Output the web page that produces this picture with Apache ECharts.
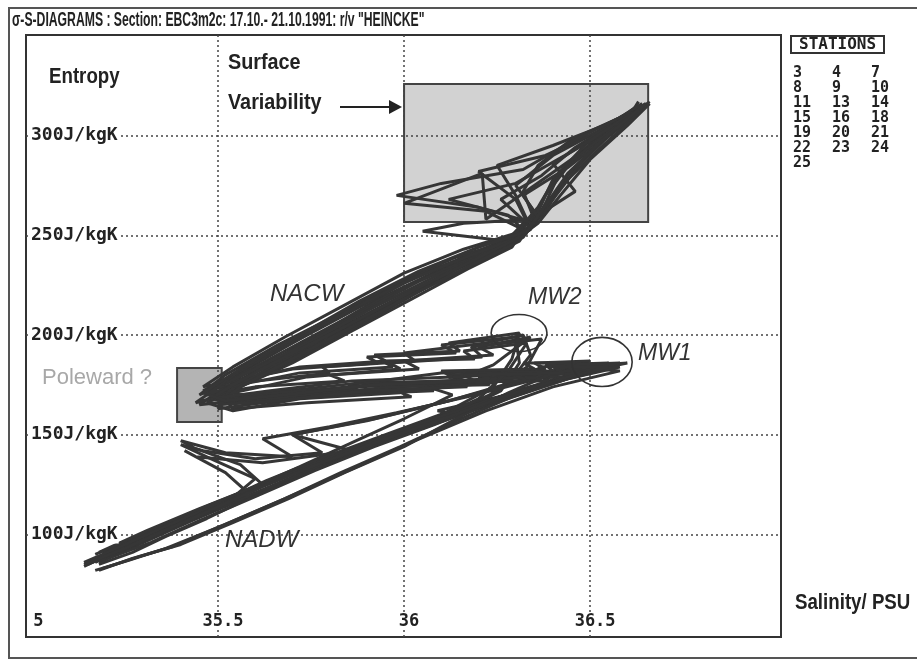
<!DOCTYPE html>
<html>
<head>
<meta charset="utf-8">
<script src="https://cdn.jsdelivr.net/npm/echarts@6/dist/echarts.min.js"></script>
<style>html,body{margin:0;padding:0;background:#fff}#c{width:917px;height:660px}</style>
</head>
<body>
<div id="c"></div>
<script>
// ---- axis ticks / labels ----
const salinityTicks = [35, 35.5, 36, 36.5];
const salinityTickLabels = ['5', '35.5', '36', '36.5'];
const entropyTicks = [100, 150, 200, 250, 300];
const stationNames = ['3','4','7','8','9','10','11','13','14','15','16','18','19','20','21','22','23','24','25'];

// ---- station profiles [salinity PSU, entropy J/kgK], deep -> surface ----
const st3 = [[35.18,85],[35.27,91],[35.36,99],[35.47,108],[35.58,118],[35.70,128],[35.84,139],[35.99,150],[36.14,160],[36.09,162],[36.30,171],[36.44,178],[36.57,184],[36.41,183],[36.45,181],[36.20,178],[36.24,176],[35.98,172],[36.02,169],[35.74,166],[35.54,163],[35.51,170],[35.63,181],[35.79,196],[35.96,214],[36.13,232],[36.28,245],[36.36,256],[36.42,270],[36.50,288],[36.60,305],[36.66,316]];
const st4 = [[35.16,86],[35.25,94],[35.36,103],[35.48,113],[35.60,124],[35.72,134],[35.86,146],[36.00,158],[36.13,170],[36.08,173],[36.24,185],[36.34,199],[36.20,194],[36.24,190],[36.00,187],[36.04,183],[35.80,180],[35.84,177],[35.60,174],[35.47,170],[35.55,180],[35.70,196],[35.86,213],[36.02,229],[36.18,240],[36.32,250],[36.38,262],[36.44,280],[36.54,298],[36.63,312]];
const st7 = [[35.17,87],[35.29,96],[35.41,106],[35.53,117],[35.60,128],[35.48,138],[35.40,145],[35.46,142],[35.60,138],[35.78,141],[35.70,150],[35.92,158],[36.12,167],[36.34,179],[36.50,187],[36.35,186],[36.38,183],[36.10,181],[35.85,175],[35.88,172],[35.60,168],[35.45,165],[35.52,174],[35.66,187],[35.82,203],[36.00,220],[36.16,235],[36.30,248],[36.35,262],[36.30,275],[36.40,290],[36.55,305],[36.64,314]];
const st8 = [[35.17,82],[35.26,87],[35.36,93],[35.52,105],[35.68,118],[35.85,132],[36.03,147],[36.22,162],[36.40,174],[36.58,182],[36.46,184],[36.50,181],[36.25,181],[36.28,178],[36.02,176],[36.06,173],[35.80,172],[35.58,168],[35.48,172],[35.58,181],[35.74,194],[35.90,209],[36.06,224],[36.22,238],[36.34,253],[36.30,268],[36.20,282],[36.38,290],[36.52,302],[36.62,311]];
const st9 = [[35.16,86],[35.27,95],[35.41,107],[35.57,120],[35.72,133],[35.89,145],[36.07,157],[36.24,168],[36.41,178],[36.50,183],[36.30,181],[36.34,179],[36.05,175],[36.08,172],[35.82,170],[35.60,166],[35.50,168],[35.60,182],[35.77,200],[35.93,218],[36.10,233],[36.25,245],[36.33,252],[36.22,262],[36.00,266],[36.21,281],[36.22,258],[36.35,275],[36.48,292],[36.60,308],[36.65,315]];
const st10 = [[35.17,90],[35.30,100],[35.43,111],[35.58,122],[35.72,132],[35.89,143],[36.06,154],[36.20,165],[36.29,178],[36.34,190],[36.32,200],[36.22,196],[36.00,191],[36.03,187],[35.78,184],[35.80,181],[35.56,176],[35.46,172],[35.54,180],[35.68,194],[35.84,210],[36.00,226],[36.16,239],[36.30,250],[36.36,262],[36.40,278],[36.50,296],[36.61,311],[36.63,317]];
const st11 = [[35.14,84],[35.23,92],[35.34,101],[35.46,111],[35.58,121],[35.52,131],[35.41,142],[35.44,139],[35.62,136],[35.86,142],[35.70,150],[35.90,157],[36.10,166],[36.30,176],[36.47,183],[36.55,186],[36.38,185],[36.40,182],[36.12,180],[36.15,177],[35.88,176],[35.64,171],[35.50,167],[35.56,174],[35.70,186],[35.86,202],[36.02,218],[36.17,233],[36.29,244],[36.33,256],[36.26,268],[36.37,280],[36.46,294],[36.57,307],[36.62,314]];
const st13 = [[35.20,92],[35.33,103],[35.48,115],[35.64,127],[35.80,138],[35.98,149],[36.13,160],[36.26,172],[36.31,186],[36.30,199],[36.10,195],[36.14,191],[35.90,189],[35.93,186],[35.70,183],[35.52,176],[35.45,170],[35.52,180],[35.66,195],[35.82,210],[35.98,226],[36.14,239],[36.28,247],[36.05,252],[36.16,256],[36.35,258],[36.32,272],[36.36,285],[36.45,298],[36.58,309],[36.64,315]];
const st14 = [[35.18,86],[35.30,96],[35.43,107],[35.57,118],[35.72,130],[35.88,142],[36.06,154],[36.23,165],[36.39,175],[36.52,183],[36.60,186],[36.44,184],[36.47,181],[36.20,179],[36.23,176],[35.96,174],[35.99,171],[35.72,168],[35.54,162],[35.47,166],[35.58,176],[35.75,192],[35.92,209],[36.08,226],[36.24,240],[36.34,253],[36.38,266],[36.42,282],[36.52,298],[36.62,312]];
const st15 = [[35.19,91],[35.31,101],[35.45,112],[35.60,124],[35.76,136],[35.94,148],[36.10,159],[36.23,170],[36.33,184],[36.37,198],[36.18,194],[36.21,189],[35.96,186],[35.99,183],[35.74,179],[35.54,171],[35.44,166],[35.50,174],[35.64,188],[35.80,204],[35.96,220],[36.12,234],[36.27,246],[36.33,258],[36.30,270],[36.25,285],[36.40,295],[36.55,306],[36.65,316]];
const st16 = [[35.15,85],[35.26,94],[35.38,104],[35.50,114],[35.62,125],[35.56,135],[35.44,143],[35.40,147],[35.52,141],[35.70,139],[35.62,148],[35.80,154],[35.98,161],[36.17,169],[36.36,178],[36.53,185],[36.36,184],[36.39,181],[36.12,179],[36.15,176],[35.88,174],[35.66,170],[35.52,168],[35.58,179],[35.72,195],[35.88,211],[36.04,227],[36.20,240],[36.32,249],[36.37,262],[36.44,278],[36.54,296],[36.63,311]];
const st18 = [[35.18,82],[35.27,88],[35.38,94],[35.53,106],[35.68,118],[35.83,131],[35.99,144],[36.14,157],[36.29,169],[36.44,178],[36.58,184],[36.42,182],[36.45,179],[36.20,178],[36.23,175],[35.97,174],[35.75,170],[35.55,166],[35.48,168],[35.58,177],[35.74,193],[35.90,209],[36.06,224],[36.22,238],[36.33,251],[36.28,260],[36.12,268],[36.30,276],[36.46,293],[36.59,307],[36.66,317]];
const st19 = [[35.14,86],[35.24,94],[35.36,104],[35.49,115],[35.63,127],[35.79,139],[35.95,150],[36.11,161],[36.24,174],[36.29,188],[36.31,201],[36.12,196],[36.15,192],[35.92,190],[35.95,187],[35.72,184],[35.54,177],[35.46,174],[35.54,184],[35.68,199],[35.84,215],[36.00,231],[36.16,243],[36.30,251],[36.36,264],[36.41,280],[36.49,296],[36.60,310]];
const st20 = [[35.19,87],[35.32,96],[35.45,107],[35.60,119],[35.76,132],[35.92,144],[36.08,155],[36.23,166],[36.38,176],[36.48,182],[36.30,180],[36.33,177],[36.06,176],[36.09,173],[35.83,171],[35.62,166],[35.50,163],[35.53,172],[35.66,186],[35.82,202],[35.98,218],[36.14,233],[36.29,245],[36.35,256],[36.20,264],[35.98,270],[36.10,276],[36.32,283],[36.45,297],[36.58,309],[36.64,316]];
const st21 = [[35.17,86],[35.29,96],[35.42,107],[35.55,117],[35.69,128],[35.84,140],[36.00,152],[36.16,163],[36.32,173],[36.46,181],[36.58,186],[36.43,185],[36.46,182],[36.20,181],[36.23,178],[35.96,176],[35.74,172],[35.56,170],[35.50,174],[35.60,183],[35.76,198],[35.92,214],[36.08,229],[36.23,242],[36.34,254],[36.40,268],[36.47,285],[36.56,302],[36.64,314]];
const st22 = [[35.18,91],[35.31,102],[35.45,113],[35.60,124],[35.75,134],[35.92,145],[36.07,157],[36.20,168],[36.28,182],[36.33,196],[36.16,192],[36.19,188],[35.94,187],[35.97,184],[35.72,181],[35.53,174],[35.47,170],[35.55,181],[35.70,197],[35.86,213],[36.02,228],[36.18,240],[36.31,249],[36.36,260],[36.46,272],[36.40,286],[36.52,300],[36.62,312]];
const st23 = [[35.16,86],[35.27,95],[35.39,105],[35.52,116],[35.66,128],[35.82,140],[35.99,152],[36.16,163],[36.32,173],[36.49,181],[36.36,180],[36.39,177],[36.14,177],[36.17,174],[35.90,172],[35.66,167],[35.50,165],[35.56,174],[35.70,188],[35.86,204],[36.02,220],[36.18,235],[36.31,247],[36.35,258],[36.38,270],[36.45,287],[36.56,303],[36.65,316]];
const st24 = [[35.19,83],[35.29,89],[35.40,95],[35.54,106],[35.69,118],[35.84,131],[36.00,144],[36.14,158],[36.28,171],[36.39,180],[36.46,186],[36.32,186],[36.35,183],[36.10,182],[36.13,179],[35.86,177],[35.64,172],[35.48,168],[35.54,175],[35.68,189],[35.84,204],[36.00,220],[36.16,235],[36.30,248],[36.36,259],[36.32,270],[36.44,284],[36.55,300],[36.64,313]];
const st25 = [[35.14,85],[35.25,93],[35.37,103],[35.49,113],[35.62,124],[35.78,136],[35.95,148],[36.12,159],[36.28,170],[36.44,179],[36.55,184],[36.40,184],[36.43,181],[36.16,180],[36.19,177],[35.92,175],[35.68,170],[35.52,167],[35.46,171],[35.56,183],[35.72,200],[35.88,217],[36.04,232],[36.20,244],[36.33,252],[36.38,265],[36.44,281],[36.54,299],[36.63,313]];
const stationProfiles = [st3, st4, st7, st8, st9, st10, st11, st13, st14, st15, st16, st18, st19, st20, st21, st22, st23, st24, st25];

// ---- annotation regions (data units) ----
const surfaceBox = [36.0, 256.6, 36.656, 325.8];
const polewardBox = [35.39, 156.4, 35.51, 183.5];
const mwRings = [[36.309, 201, 0.075, 9.3], [36.532, 186.5, 0.081, 12.3]];

const MONO = "'DejaVu Sans Mono', monospace";
const SANSB = "bold 22px 'Liberation Sans', Arial, sans-serif";
const INK = '#333';

const chart = echarts.init(document.getElementById('c'));

const lineSeries = stationNames.map((name, i) => ({
  name: name,
  type: 'line',
  data: stationProfiles[i],
  showSymbol: false,
  symbol: 'none',
  z: 3,
  lineStyle: { color: '#363636', width: 3 },
  itemStyle: { color: '#363636' },
  emphasis: { disabled: true }
}));

function txt(text, x, y, font, fill, sx) {
  return { type: 'text', x: x, y: y, scaleX: sx || 1, z: 20,
    style: { text: text, font: font, fill: fill || '#222', textVerticalAlign: 'middle', verticalAlign: 'middle' } };
}

const labelFont = { fontFamily: MONO, fontWeight: 'bold', fontSize: 17, color: '#222' };

const option = {
  animation: false,
  backgroundColor: '#fff',
  title: [
    { text: 'STATIONS', left: 791, top: 36, padding: [1, 8, 0, 8],
      borderColor: INK, borderWidth: 2,
      textStyle: { fontFamily: MONO, fontWeight: 'bold', fontSize: 16, lineHeight: 16, color: '#222' } }
  ],
  legend: {
    data: stationNames, left: 788, top: 66, width: 120, padding: 0,
    orient: 'horizontal', itemGap: 0, itemWidth: 0, itemHeight: 0, icon: 'none',
    selectedMode: false,
    textStyle: { fontFamily: MONO, fontWeight: 'bold', fontSize: 15, lineHeight: 12.7, width: 34, color: '#222' }
  },
  grid: { left: 26, right: 136, top: 35, bottom: 23, show: true, borderColor: INK, borderWidth: 2, backgroundColor: 'transparent' },
  xAxis: {
    type: 'value', min: 34.984, max: 37.013, z: 10,
    axisLine: { show: false }, splitLine: { show: false },
    axisTick: { show: false, customValues: salinityTicks },
    axisLabel: {
      inside: true, margin: 7, customValues: salinityTicks,
      formatter: v => {
        const t = salinityTickLabels[salinityTicks.indexOf(v)] || '';
        return v === salinityTicks[0] ? '{n|' + t + '}' : '{w|' + t + '}';
      },
      rich: {
        w: Object.assign({ backgroundColor: '#fff', padding: [0, 0, 0, 10] }, labelFont),
        n: Object.assign({ padding: [0, 0, 0, 13] }, labelFont)
      }
    }
  },
  yAxis: {
    type: 'value', min: 48.6, max: 350.4, z: 10,
    axisLine: { show: false }, splitLine: { show: false },
    axisTick: { show: false, customValues: entropyTicks },
    axisLabel: Object.assign({
      inside: true, margin: 5, customValues: entropyTicks,
      formatter: v => v + 'J/kgK',
      backgroundColor: '#fff', padding: [0, 1, 0, 0]
    }, labelFont, { fontSize: 18 })
  },
  graphic: [
    { type: 'rect', shape: { x: 9, y: 8, width: 930, height: 650 }, style: { fill: 'none', stroke: '#555', lineWidth: 2 }, z: 0 },
    txt('σ-S-DIAGRAMS : Section: EBC3m2c: 17.10.- 21.10.1991: r/v "HEINCKE"', 12, 20, "bold 20px 'Liberation Sans', Arial, sans-serif", '#222', 0.61),
    txt('Entropy', 49, 77, SANSB, '#222', 0.85),
    txt('Surface', 228, 63, SANSB, '#222', 0.9),
    txt('Variability', 228, 103, SANSB, '#222', 0.9),
    { type: 'line', shape: { x1: 340, y1: 107, x2: 393, y2: 107 }, style: { stroke: '#222', lineWidth: 2 }, z: 20 },
    { type: 'polygon', shape: { points: [[389, 100], [402, 107], [389, 114]] }, style: { fill: '#222' }, z: 20 },
    txt('NACW', 270, 294, "italic 24px 'Liberation Sans', Arial, sans-serif", INK),
    txt('MW2', 528, 298, "italic 23px 'Liberation Sans', Arial, sans-serif", INK),
    txt('MW1', 638, 354, "italic 23px 'Liberation Sans', Arial, sans-serif", INK),
    txt('NADW', 225, 540, "italic 24px 'Liberation Sans', Arial, sans-serif", INK),
    txt('Poleward ?', 42, 378, "22px 'Liberation Sans', Arial, sans-serif", '#a8a8a8'),
    txt('Salinity/ PSU', 795, 603, SANSB, '#222', 0.85)
  ],
  series: [
    {
      type: 'line', data: [], z: 1, silent: true,
      markArea: {
        silent: true, z: 1,
        data: [
          [{ coord: [surfaceBox[0], surfaceBox[1]], itemStyle: { color: '#d2d2d2', borderColor: '#444', borderWidth: 2 } },
           { coord: [surfaceBox[2], surfaceBox[3]] }],
          [{ coord: [polewardBox[0], polewardBox[1]], itemStyle: { color: '#b4b4b4', borderColor: '#444', borderWidth: 2 } },
           { coord: [polewardBox[2], polewardBox[3]] }]
        ]
      },
      markLine: {
        silent: true, symbol: 'none', z: 2, label: { show: false },
        lineStyle: { color: '#444', width: 1.5, type: [2, 3] },
        data: salinityTicks.filter(v => v > 35).map(v => ({ xAxis: v }))
          .concat(entropyTicks.map(v => ({ yAxis: v })))
      }
    },
    ...lineSeries,
    {
      type: 'custom', z: 4, silent: true,
      data: mwRings,
      renderItem: function (params, api) {
        const c = api.coord([api.value(0), api.value(1)]);
        const s = api.size([api.value(2), api.value(3)]);
        return { type: 'ellipse', shape: { cx: c[0], cy: c[1], rx: s[0], ry: s[1] },
          style: { fill: 'none', stroke: INK, lineWidth: 1.6 } };
      }
    }
  ]
};
chart.setOption(option);
</script>
</body>
</html>
